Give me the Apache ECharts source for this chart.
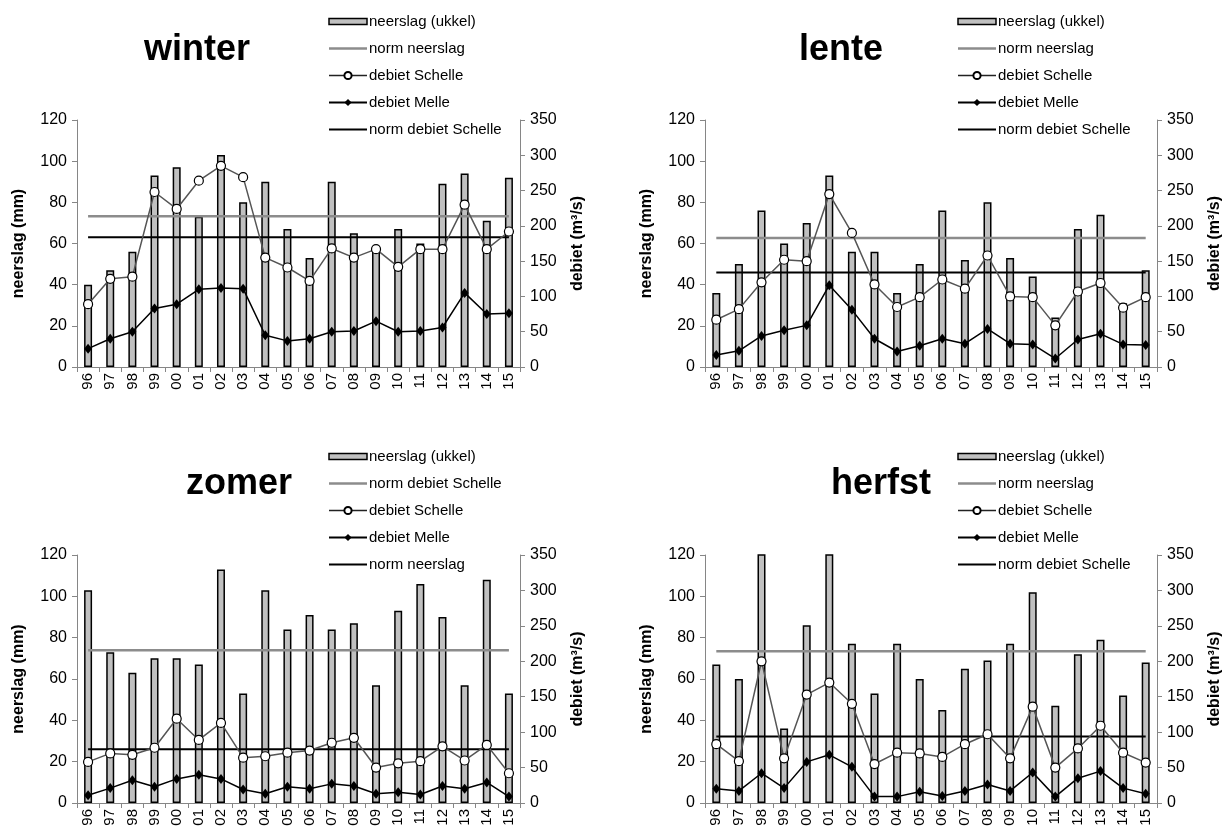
<!DOCTYPE html>
<html>
<head>
<meta charset="utf-8">
<script src="https://cdn.jsdelivr.net/npm/echarts@6/dist/echarts.min.js"></script>
<style>
html,body{margin:0;padding:0;background:#fff;}
#chart{width:1231px;height:832px;}
</style>
</head>
<body>
<div id="chart"></div>
<script>
// ---- data ----
const years = ['96','97','98','99','00','01','02','03','04','05','06','07','08','09','10','11','12','13','14','15'];

const winterRain    = [40,47,56,93,97,73,103,80,90,67,53,90,65,57,67,60,89,94,71,92];
const winterSchelle = [89,125,128,248,224,264,285,269,155,141,122,168,155,167,142,167,167,230,167,192];
const winterMelle   = [26,40,50,83,89,110,112,111,45,37,40,50,51,65,50,51,56,105,75,76];
const winterNormRain = 73.2;
const winterNormSchelle = 184;

const lenteRain    = [36,50,76,60,70,93,56,56,36,50,76,52,80,53,44,24,67,74,31,47];
const lenteSchelle = [67,82,120,152,150,245,190,117,85,99,124,111,158,100,99,59,107,119,84,99];
const lenteMelle   = [17,23,44,52,59,116,81,40,22,30,40,33,54,33,32,12,39,47,32,31];
const lenteNormRain = 62.7;
const lenteNormSchelle = 134;

const zomerRain    = [103,73,63,70,70,67,113,53,103,84,91,84,87,57,93,106,90,57,108,53];
const zomerSchelle = [58,70,68,78,119,89,113,64,66,71,74,85,92,50,56,59,80,60,82,42];
const zomerMelle   = [11,21,32,23,34,40,34,19,13,23,20,27,24,13,15,12,24,20,29,9];
const zomerNormRain = 73.9;
const zomerNormSchelle = 75.8;

const herfstRain    = [67,60,125,36,86,130,77,53,77,60,45,65,69,77,102,47,72,79,52,68];
const herfstSchelle = [83,59,200,63,153,170,140,55,71,70,65,83,97,63,136,50,77,109,71,57];
const herfstMelle   = [20,17,42,21,58,68,51,9,9,16,10,17,26,17,43,9,35,45,21,13];
const herfstNormRain = 73.4;
const herfstNormSchelle = 94;

const leftTicks = {min:0, max:120, interval:20};
const rightTicks = {min:0, max:350, interval:50};

// ---- layout ----
const FONT = 'Liberation Sans, Arial, sans-serif';
const GRAY_NORM = '#8c8c8c';
const panels = [
  {title:'winter', tx:192, ty:27, grid:{left:77, top:120, width:443, height:247},
   rain:winterRain, schelle:winterSchelle, melle:winterMelle, normRain:winterNormRain, normSchelle:winterNormSchelle,
   legendX:328, legendY:14, swapped:false},
  {title:'lente', tx:836, ty:27, grid:{left:705, top:120, width:452, height:247},
   rain:lenteRain, schelle:lenteSchelle, melle:lenteMelle, normRain:lenteNormRain, normSchelle:lenteNormSchelle,
   legendX:957, legendY:14, swapped:false},
  {title:'zomer', tx:234, ty:461, grid:{left:77, top:555, width:443, height:248},
   rain:zomerRain, schelle:zomerSchelle, melle:zomerMelle, normRain:zomerNormRain, normSchelle:zomerNormSchelle,
   legendX:328, legendY:449, swapped:true},
  {title:'herfst', tx:876, ty:461, grid:{left:705, top:555, width:452, height:248},
   rain:herfstRain, schelle:herfstSchelle, melle:herfstMelle, normRain:herfstNormRain, normSchelle:herfstNormSchelle,
   legendX:957, legendY:449, swapped:false}
];

const axisGray = '#868686';
const option = {
  backgroundColor:'#fff',
  animation:false,
  textStyle:{fontFamily:FONT},
  title:[], grid:[], xAxis:[], yAxis:[], legend:[], series:[]
};

panels.forEach((p, i) => {
  option.title.push({text:p.title, left:p.tx, top:p.ty, textAlign:'center',
    textStyle:{fontFamily:FONT, fontSize:36, fontWeight:'bold', color:'#000'}});
  option.grid.push(Object.assign({containLabel:false}, p.grid));
  option.xAxis.push({type:'category', gridIndex:i, data:years, boundaryGap:true,
    axisLine:{show:true, lineStyle:{color:axisGray, width:1}},
    axisTick:{show:true, length:5, lineStyle:{color:axisGray}},
    axisLabel:{rotate:90, fontSize:15, color:'#000', margin:6, fontFamily:FONT},
    splitLine:{show:false}});
  option.yAxis.push({type:'value', gridIndex:i, position:'left', min:leftTicks.min, max:leftTicks.max, interval:leftTicks.interval,
    name:'neerslag (mm)', nameLocation:'middle', nameRotate:90, nameGap:50,
    nameTextStyle:{fontFamily:FONT, fontSize:16, fontWeight:'bold', color:'#000'},
    axisLine:{show:true, lineStyle:{color:axisGray}},
    axisTick:{show:true, length:5, lineStyle:{color:axisGray}},
    axisLabel:{fontSize:16, color:'#000', margin:10, fontFamily:FONT},
    splitLine:{show:false}});
  option.yAxis.push({type:'value', gridIndex:i, position:'right', min:rightTicks.min, max:rightTicks.max, interval:rightTicks.interval,
    name:'debiet (m³/s)', nameLocation:'middle', nameRotate:90, nameGap:50,
    nameTextStyle:{fontFamily:FONT, fontSize:16, fontWeight:'bold', color:'#000'},
    axisLine:{show:true, lineStyle:{color:axisGray}},
    axisTick:{show:true, length:5, lineStyle:{color:axisGray}},
    axisLabel:{fontSize:16, color:'#000', margin:10, fontFamily:FONT},
    splitLine:{show:false}});
  const ly = i*2, ry = i*2+1;
  // bars
  option.series.push({name:'neerslag (ukkel)', type:'bar', xAxisIndex:i, yAxisIndex:ly, data:p.rain,
    barWidth:8, itemStyle:{color:'#c0c0c0', borderColor:'#000', borderWidth:1.5}, z:1});
  // norm lines
  const normGrayName = p.swapped ? 'norm debiet Schelle' : 'norm neerslag';
  const normBlackName = p.swapped ? 'norm neerslag' : 'norm debiet Schelle';
  option.series.push({name:normGrayName, type:'line', xAxisIndex:i, yAxisIndex:ly,
    data:years.map(() => p.normRain), symbol:'none',
    lineStyle:{color:GRAY_NORM, width:2.5}, itemStyle:{color:GRAY_NORM}, z:3});
  option.series.push({name:normBlackName, type:'line', xAxisIndex:i, yAxisIndex:ry,
    data:years.map(() => p.normSchelle), symbol:'none',
    lineStyle:{color:'#000', width:2}, itemStyle:{color:'#000'}, z:3});
  option.series.push({name:'debiet Schelle', type:'line', xAxisIndex:i, yAxisIndex:ry, data:p.schelle,
    symbol:'circle', symbolSize:9, showAllSymbol:true,
    lineStyle:{color:'#555', width:1.5}, itemStyle:{color:'#fff', borderColor:'#000', borderWidth:1.2}, z:4});
  option.series.push({name:'debiet Melle', type:'line', xAxisIndex:i, yAxisIndex:ry, data:p.melle,
    symbol:'diamond', symbolSize:[8,10], showAllSymbol:true,
    lineStyle:{color:'#000', width:1.5}, itemStyle:{color:'#000'}, z:5});
  // legend
  option.legend.push({
    orient:'vertical', left:p.legendX, top:p.legendY, itemWidth:38, itemHeight:9, itemGap:12,
    padding:0, selectedMode:false,
    textStyle:{fontFamily:FONT, fontSize:15, color:'#000', lineHeight:15, padding:[0,0,0,-3]},
    data:[
      {name:'neerslag (ukkel)', icon:'path://M0,0H38V6H0Z', itemStyle:{color:'#c0c0c0', borderColor:'#000', borderWidth:1.5}},
      {name:normGrayName, icon:'path://M0,0H38V2.5H0Z', itemStyle:{color:GRAY_NORM, borderWidth:0}},
      {name:'debiet Schelle', lineStyle:{color:'#222', width:1.5}},
      {name:'debiet Melle'},
      {name:normBlackName, icon:'path://M0,0H38V2H0Z', itemStyle:{color:'#000', borderWidth:0}}
    ]
  });
});

const chart = echarts.init(document.getElementById('chart'), null, {renderer:'canvas'});
chart.setOption(option);
</script>
</body>
</html>
